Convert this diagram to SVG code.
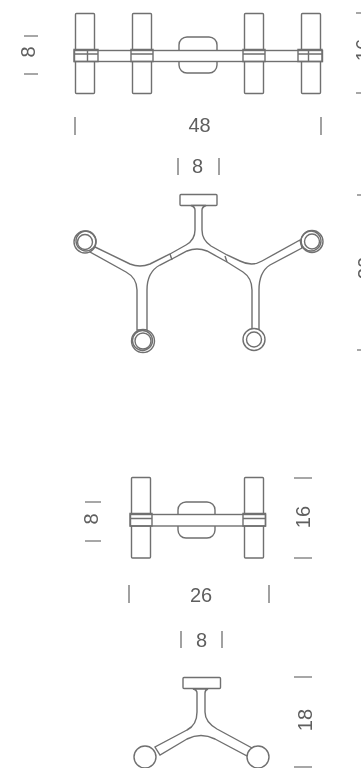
<svg xmlns="http://www.w3.org/2000/svg" width="361" height="768" viewBox="0 0 361 768">
<defs><filter id="soft" x="0" y="0" width="361" height="768" filterUnits="userSpaceOnUse"><feGaussianBlur stdDeviation="0.45"/></filter></defs>
<style>
.l{fill:none;stroke:#6f6f6f;stroke-width:1.4}
.w{fill:#fff;stroke:#6f6f6f;stroke-width:1.4}
.k{fill:none;stroke:#8a8a8a;stroke-width:1.6}
.t{fill:#5e5e5e;font-family:"Liberation Sans",Arial,sans-serif;font-size:20px;text-anchor:middle}
</style>
<rect width="361" height="768" fill="#fff"/>
<g filter="url(#soft)">
<g id="front-large">
<rect class="w" x="179" y="37" width="38" height="36" rx="8"/>
<rect class="w" x="75.500" y="13.500" width="19" height="80" rx="1"/>
<rect class="w" x="132.500" y="13.500" width="19" height="80" rx="1"/>
<rect class="w" x="244.500" y="13.500" width="19" height="80" rx="1"/>
<rect class="w" x="301.500" y="13.500" width="19" height="80" rx="1"/>
<rect class="w" x="74.500" y="50.500" width="248" height="11"/>
<path class="l" d="M74 49.500H98V61.500H74ZM74 54H98M87.500 49.500V61.500M131 49.500H153V61.500H131ZM131 54H153M243 49.500H265V61.500H243ZM243 54H265M298 49.500H322V61.500H298ZM298 54H322M308.500 49.500V61.500"/>
</g>
<g id="plan-large">
<rect class="w" x="180" y="194.500" width="37" height="11" rx="1"/>
<path class="w" d="M191 205.500Q195 207 195 210V230Q195 240 186 245L170 254L150 264Q140 268 130 264L93 246L90 252L126 272Q137 278 137 290V330L147 330V290Q147 272 160 265L170 260L187 251Q197 247 207 251L227 262L243 272Q252 278 252 290V330L259 330V290Q259 272 270 265L302 248L300 240L262 261Q252 267 240 261L227 255L211 246Q202 240 202 230V210Q202 207 206 205.500Z"/>
<path class="l" d="M170 254L172 260M225 256L227 262"/>
<circle class="w" cx="85" cy="242" r="11"/><circle class="l" cx="85" cy="242" r="7.500"/><circle class="l" cx="86" cy="241" r="10"/>
<circle class="w" cx="143" cy="341" r="11.500"/><circle class="l" cx="143" cy="341" r="8"/><circle class="l" cx="142.500" cy="340.500" r="10"/>
<circle class="w" cx="254" cy="339.500" r="11"/><circle class="l" cx="254" cy="339.500" r="7.500"/>
<circle class="w" cx="312" cy="241.500" r="11"/><circle class="l" cx="312" cy="241.500" r="7.500"/><circle class="l" cx="311" cy="241" r="10"/>
</g>
<g id="front-small">
<rect class="w" x="178" y="502" width="37" height="36" rx="8"/>
<rect class="w" x="131.500" y="477.500" width="19" height="80.500" rx="1"/>
<rect class="w" x="244.500" y="477.500" width="19" height="80.500" rx="1"/>
<rect class="w" x="130.500" y="514.500" width="135" height="11.500"/>
<path class="l" d="M130 513.500H152V526H130ZM130 518.500H152M243 513.500H265.500V526H243ZM243 518.500H265.500"/>
</g>
<g id="plan-small">
<rect class="w" x="183" y="677.500" width="37.500" height="11" rx="1"/>
<path class="w" d="M193 689Q197 690 197 693V712Q197 725 187 730L155 747L160 755L187 739Q201 732 215 739L249 757L252 748L217 729Q205 722 205 712V693Q205 690 208 689Z"/>
<circle class="w" cx="145" cy="757" r="11"/>
<circle class="w" cx="258" cy="757" r="11"/>
</g>
<g id="dimensions">
<path class="k" d="M24 36H38M24 74H38M356 13H361M356 93H361M75 117V135M321 117V135M178 158V175M219 158V175M357 195H361M357 350H361M85 502H101M85 541H101M294 478H312M294 558H312M129 585V603M269 585V603M181 631V648M222 631V648M294 677H312M294 767H312"/>
<text class="t" transform="translate(35 52) rotate(-90)">8</text>
<text class="t" transform="translate(370 50) rotate(-90)">16</text>
<text class="t" x="199.500" y="132">48</text>
<text class="t" x="197.500" y="173">8</text>
<text class="t" transform="translate(372 268) rotate(-90)">20</text>
<text class="t" transform="translate(98 519) rotate(-90)">8</text>
<text class="t" transform="translate(310 517) rotate(-90)">16</text>
<text class="t" x="201" y="602">26</text>
<text class="t" x="201.500" y="647">8</text>
<text class="t" transform="translate(312 720) rotate(-90)">18</text>
</g>
</g>
</svg>
